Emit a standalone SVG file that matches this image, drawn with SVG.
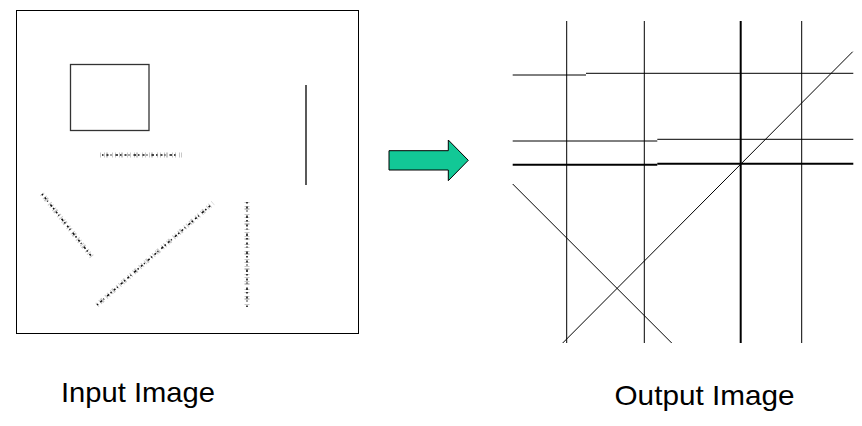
<svg xmlns="http://www.w3.org/2000/svg" width="862" height="426" viewBox="0 0 862 426">
<style>
.frame{fill:none;stroke:#000;stroke-width:1}
.ln{stroke:#000;stroke-width:1;fill:none}
.thick{stroke:#000;stroke-width:2;fill:none}
.halo{stroke:#c8c8c8;stroke-width:5;stroke-dasharray:1 3 1 1 2 4 1 2;fill:none}
.dots{stroke:#111;stroke-width:1.6;stroke-dasharray:1.5 3 2 2 1 4 2.5 2;fill:none}
.lbl{font-family:"Liberation Sans",Arial,sans-serif;font-size:28px;fill:#000}
</style>
<rect width="862" height="426" fill="#fff"/>
<g id="input-image">
<rect class="frame" x="16.5" y="10.5" width="342" height="323"/>
<rect x="70.5" y="64.5" width="78.5" height="66" fill="none" stroke="#333" stroke-width="1.3"/>
<line x1="306" y1="85" x2="306" y2="185" stroke="#000" stroke-width="1.3"/>
<g>
<line class="halo" x1="100" y1="155" x2="182" y2="155"/>
<line class="dots" x1="102" y1="155" x2="178" y2="155"/>
<line class="halo" x1="42" y1="194" x2="92" y2="257"/>
<line class="dots" x1="42" y1="194" x2="92" y2="257"/>
<line class="halo" x1="97" y1="305" x2="213" y2="203"/>
<line class="dots" x1="97" y1="305" x2="211" y2="205"/>
<line class="halo" x1="247" y1="202" x2="247" y2="307"/>
<line class="dots" x1="247" y1="202" x2="247" y2="307"/>
</g>
</g>
<g id="arrow">
<polygon points="389,150.7 448.3,150.7 448.3,140 468.3,160.3 448.3,180.7 448.3,170 389,170" fill="#12c896" stroke="#000" stroke-width="1"/>
</g>
<g id="output-image">
<line class="ln" x1="566.7" y1="21" x2="566.7" y2="343"/>
<line class="ln" x1="644.3" y1="21" x2="644.3" y2="343"/>
<line class="thick" x1="740.7" y1="21" x2="740.7" y2="343"/>
<line class="ln" x1="801.7" y1="21" x2="801.7" y2="343"/>
<line class="ln" x1="512.7" y1="75" x2="586" y2="75"/>
<line class="ln" x1="586" y1="73.3" x2="853.3" y2="73.3"/>
<line class="ln" x1="512.7" y1="141" x2="657.3" y2="141"/>
<line class="ln" x1="657.3" y1="139.3" x2="853.3" y2="139.3"/>
<line class="thick" x1="512.7" y1="164.7" x2="657.3" y2="164.7"/>
<line class="thick" x1="657.3" y1="163.7" x2="853.3" y2="163.7"/>
<line class="ln" x1="512.7" y1="184" x2="671.7" y2="343"/>
<line class="ln" x1="562.7" y1="343" x2="852.7" y2="51.7"/>
</g>
<g id="labels">
<text class="lbl" x="61" y="402.3" textLength="154" lengthAdjust="spacingAndGlyphs">Input Image</text>
<text class="lbl" x="614.5" y="405.3" textLength="180" lengthAdjust="spacingAndGlyphs">Output Image</text>
</g>
</svg>
